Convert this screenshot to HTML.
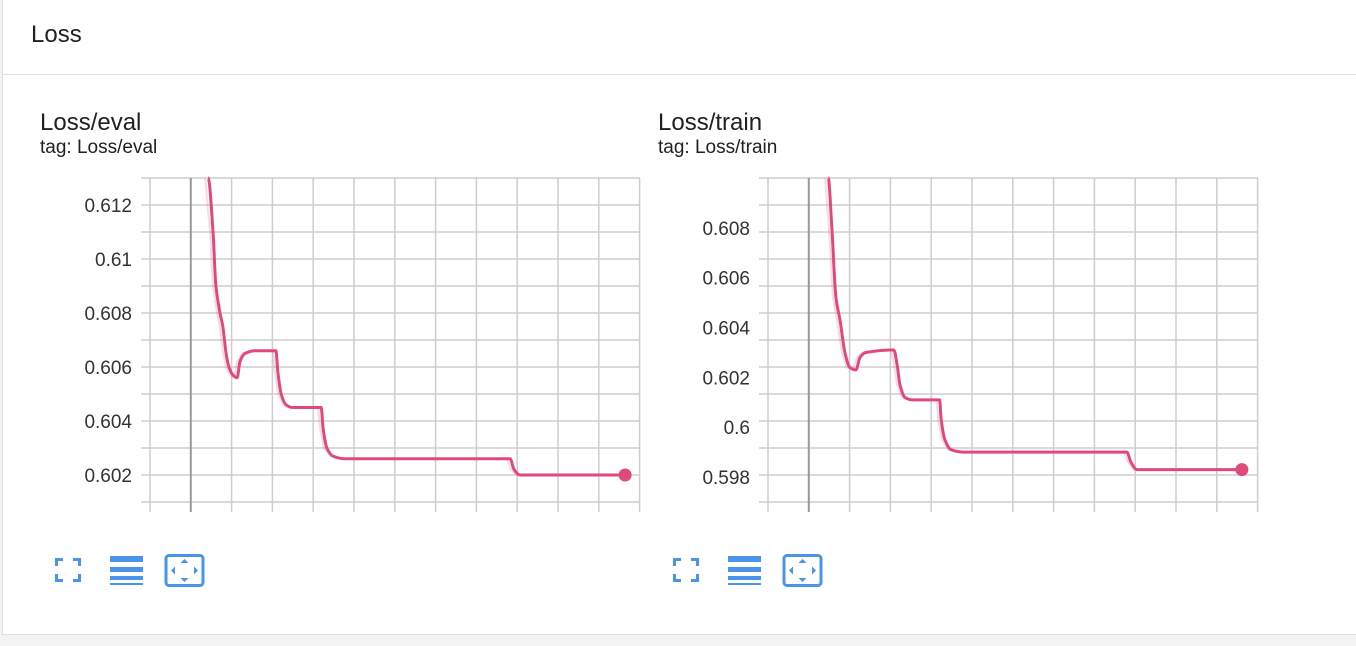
<!DOCTYPE html>
<html><head><meta charset="utf-8"><style>
body{margin:0;width:1356px;height:646px;background:#f3f3f3;font-family:"Liberation Sans",sans-serif;overflow:hidden;position:relative}
#card{position:absolute;left:2px;top:0;width:1360px;height:634px;background:#fff;border:1px solid #ddd;border-top:none}
#hdr{position:absolute;left:0;top:0;right:0;height:74px;border-bottom:1px solid #ddd}
#hdr span{position:absolute;left:28px;top:21px;font-size:24px;color:#212121}
.title{position:absolute;font-size:24px;color:#212121}
.tag{position:absolute;font-size:19px;color:#212121}
svg{position:absolute;left:0;top:0}
</style></head><body>
<div id="card">
<div id="hdr"><span>Loss</span></div>
</div>
<div class="title" style="left:40px;top:109px">Loss/eval</div>
<div class="tag" style="left:40px;top:137px">tag: Loss/eval</div>
<div class="title" style="left:658px;top:109px">Loss/train</div>
<div class="tag" style="left:658px;top:137px">tag: Loss/train</div>
<svg id="svg" width="1356" height="646"></svg>
<script>
// x in step units; eval series
const evalX=[0.42,0.54,0.61,0.71,0.78,0.86,0.93,1.03,1.13,1.20,1.32,1.57,2.08,2.13,2.21,2.33,2.48,3.19,3.24,3.33,3.48,3.77,7.82,7.92,8.06,10.64];
const evalY=[0.6130,0.6110,0.6090,0.6080,0.6075,0.6065,0.6060,0.6057,0.6056,0.6062,0.6065,0.6066,0.6066,0.6058,0.6050,0.6046,0.6045,0.6045,0.6037,0.6030,0.6027,0.6026,0.6026,0.6022,0.6020,0.6020];
const evalTicks=[0.602,0.604,0.606,0.608,0.61,0.612];
const evalTickLabels=["0.602","0.604","0.606","0.608","0.61","0.612"];
const trainX=[0.47,0.56,0.66,0.76,0.88,1.00,1.15,1.25,1.39,2.08,2.16,2.23,2.35,2.52,3.20,3.24,3.33,3.48,3.80,7.79,7.89,8.04,10.61];
const trainY=[0.6100,0.6080,0.6052,0.6043,0.6030,0.6024,0.6023,0.6028,0.6030,0.6031,0.6025,0.6017,0.6012,0.6011,0.6011,0.6003,0.5995,0.5991,0.5990,0.5990,0.5986,0.5983,0.5983];
const trainTicks=[0.598,0.6,0.602,0.604,0.606,0.608];
const trainTickLabels=["0.598","0.6","0.602","0.604","0.606","0.608"];
const NS="http://www.w3.org/2000/svg";
const svg=document.getElementById('svg');
function mk(t,a,p){const e=document.createElementNS(NS,t);for(const k in a)e.setAttribute(k,a[k]);(p||svg).appendChild(e);return e;}
function slope(pts,i){
  const n=pts.length;
  if(i==0||i==n-1)return 0;
  const a=(pts[i][1]-pts[i-1][1])/(pts[i][0]-pts[i-1][0]), b=(pts[i+1][1]-pts[i][1])/(pts[i+1][0]-pts[i][0]);
  if(a*b<=0)return 0;
  return 2*a*b/(a+b);
}
function smoothPath(pts){
  let d='M'+pts[0][0]+' '+pts[0][1];
  for(let i=0;i<pts.length-1;i++){
    const p1=pts[i],p2=pts[i+1],h=(p2[0]-p1[0])/3;
    d+=` C${p1[0]+h} ${p1[1]+slope(pts,i)*h} ${p2[0]-h} ${p2[1]-slope(pts,i+1)*h} ${p2[0]} ${p2[1]}`;
  }
  return d;
}
function chart(name,x0,yMin,yMax,xs,ys,ticks,labels){
  const L=x0-9,R=x0+490,T=178,B=502,ux=40.8;
  const sx=v=>x0+41+v*ux, sy=v=>B-(v-yMin)/(yMax-yMin)*(B-T);
  const g=mk('g',{});
  
  
  for(let i=0;i<=12;i++){const y=T+i*27;mk('line',{x1:L,x2:R,y1:y,y2:y,stroke:'#cdcdcd','stroke-width':1.5},g);}
  for(let i=0;i<=12;i++){const x=x0+i*40.8;mk('line',{x1:x,x2:x,y1:T,y2:B+10,stroke:i==1?'#999':'#cdcdcd','stroke-width':i==1?2:1.5},g);}
  ticks.forEach((t,i)=>{const tx=mk('text',{x:x0-18,y:sy(t)+7,'text-anchor':'end','font-size':19,fill:'#333'},g);tx.textContent=labels[i];
    
    });
  let raw='';xs.forEach((x,i)=>{raw+=(i?'L':'M')+(sx(x)-3)+' '+sy(ys[i])+' ';});
  const r=mk('path',{d:raw,fill:'none',stroke:'#e04a7a','stroke-opacity':0.2,'stroke-width':2},g);
  
  
  const pts=xs.map((x,i)=>[sx(x),sy(ys[i])]);
  const p=mk('path',{d:smoothPath(pts),fill:'none',stroke:'#e04a7a','stroke-width':3,'stroke-linejoin':'round'},g);
  
  
  const n=xs.length-1;
  const c=mk('circle',{cx:sx(xs[n]),cy:sy(ys[n]),r:6.5,fill:'#e04a7a'},g);
  
  
}
chart('eval',150,0.6010,0.6130,evalX,evalY,evalTicks,evalTickLabels);
chart('train',768,0.5970,0.6100,trainX,trainY,trainTicks,trainTickLabels);
function icons(x,name){
  const g=mk('g',{fill:'#4a94ea'});
  
  
  const f=mk('path',{d:`M${x} 558h8v3h-5v5h-3zM${x+18} 558h8v8h-3v-5h-5zM${x} 574h3v5h5v3h-8zM${x+23} 574h3v8h-8v-3h5z`},g);
  
  
  const l=mk('path',{d:`M${x+55} 556h33v6h-33zM${x+55} 567h33v5h-33zM${x+55} 576h33v4h-33zM${x+55} 583h33v2h-33z`},g);
  
  
  const b=mk('rect',{x:x+111,y:555.5,width:37,height:30,rx:3,fill:'none',stroke:'#4a94ea','stroke-width':3},g);
  
  
  mk('path',{d:`M${x+129.5} 559l4 4h-8zM${x+129.5} 582l4-4h-8zM${x+116} 570.5l4-4v8zM${x+143} 570.5l-4-4v8z`},g);
}
icons(55,'eval');icons(673,'train');
</script>
</body></html>
